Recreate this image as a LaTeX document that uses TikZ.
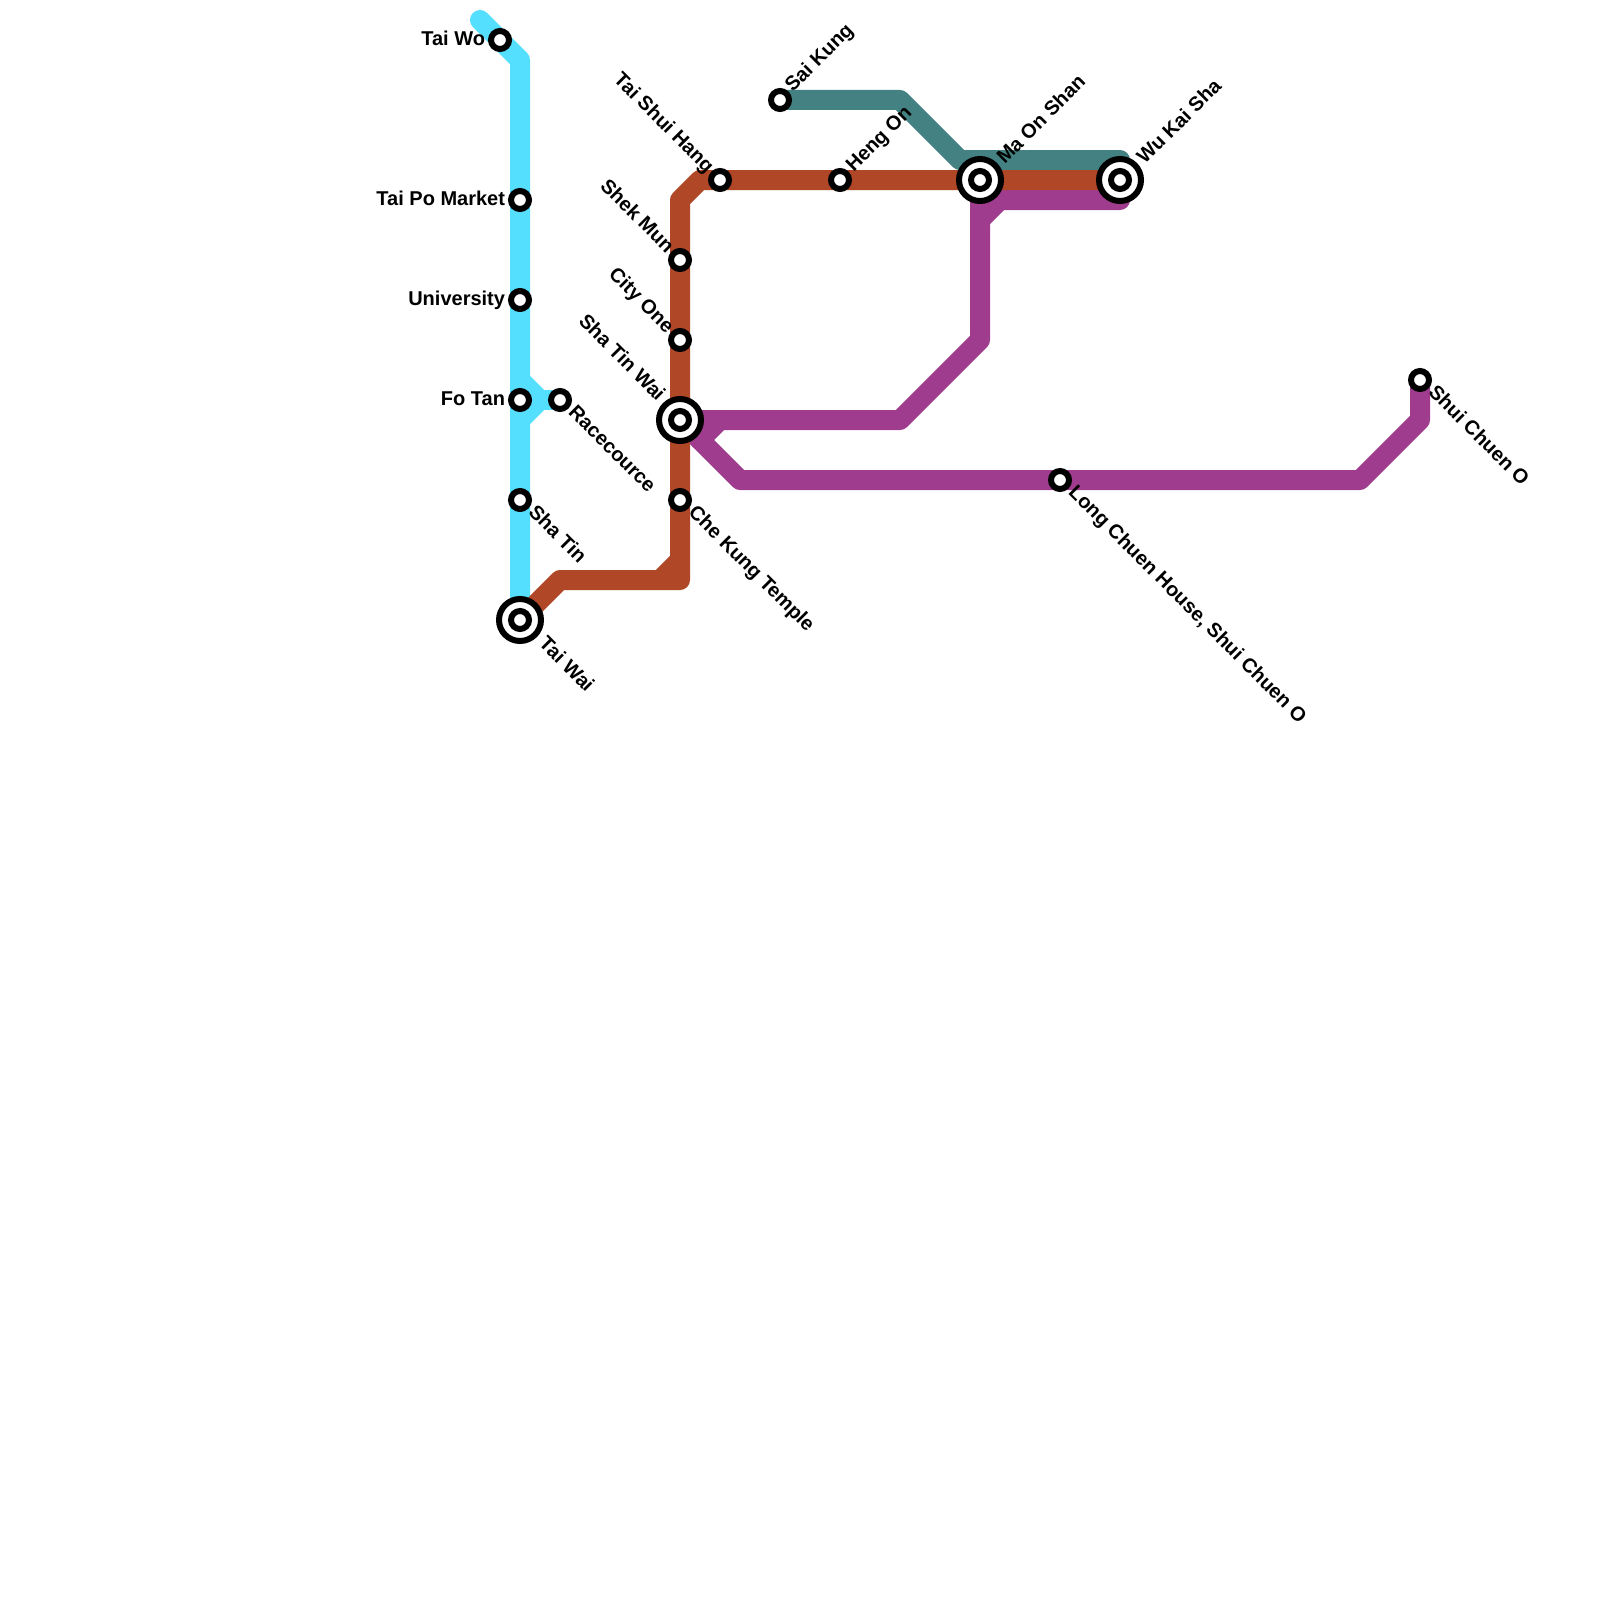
\documentclass[tikz,border=0pt]{standalone}
\usepackage{fontspec}
\setmainfont{Liberation Sans}
\definecolor{lblue}{HTML}{55DFFF}
\definecolor{lbrown}{HTML}{B04727}
\definecolor{lpurple}{HTML}{9F3C8E}
\definecolor{lteal}{HTML}{438182}
\tikzset{
  metro/.style={line width=20pt,line join=round,line cap=round},
  stn/.style={circle,draw=black,fill=white,line width=6pt,minimum size=18pt,inner sep=0pt,outer sep=0pt},
  hub/.style={circle,draw=black,fill=white,line width=6pt,minimum size=42pt,inner sep=0pt,outer sep=0pt},
  lab/.style={inner sep=0pt,outer sep=0pt,font=\fontsize{20}{24}\selectfont\bfseries,text=black,draw=none,text opacity=1,text height=15pt,text depth=4pt},
  labL/.style={lab,anchor=east},
  labUR/.style={lab,anchor=west,rotate=45},
  labDR/.style={lab,anchor=west,rotate=-45},
  labUL/.style={lab,anchor=east,rotate=-45},
}
\begin{document}
\begin{tikzpicture}[x=1pt,y=-1pt]
\useasboundingbox (0,0) rectangle (1600,1600);
% bends
\coordinate (b1) at (480,20);
\coordinate (b2) at (520,60);
\coordinate (b3) at (520,380);
\coordinate (b4) at (540,400);
\coordinate (b5) at (520,420);
\coordinate (r1) at (560,580);
\coordinate (r2) at (680,580);
\coordinate (r3) at (660,580);
\coordinate (r4) at (680,560);
\coordinate (r5) at (680,200);
\coordinate (r6) at (700,180);
\coordinate (p1) at (900,420);
\coordinate (p2) at (980,340);
\coordinate (p3) at (980,200);
\coordinate (p4) at (1120,200);
\coordinate (p5) at (980,220);
\coordinate (p6) at (1000,200);
\coordinate (p7) at (740,480);
\coordinate (p8) at (1360,480);
\coordinate (p9) at (1420,420);
\coordinate (p10) at (700,440);
\coordinate (p11) at (720,420);
\coordinate (t1) at (900,100);
\coordinate (t2) at (960,160);
\coordinate (t3) at (1120,160);
% station positions
\coordinate (cTaiWo) at (500,40);
\coordinate (cTaiPo) at (520,200);
\coordinate (cUni) at (520,300);
\coordinate (cFoTan) at (520,400);
\coordinate (cRace) at (560,400);
\coordinate (cShaTin) at (520,500);
\coordinate (cTaiWai) at (520,620);
\coordinate (cCheKung) at (680,500);
\coordinate (cShaTinWai) at (680,420);
\coordinate (cCityOne) at (680,340);
\coordinate (cShekMun) at (680,260);
\coordinate (cTaiShui) at (720,180);
\coordinate (cHengOn) at (840,180);
\coordinate (cMaOn) at (980,180);
\coordinate (cWuKai) at (1120,180);
\coordinate (cSaiKung) at (780,100);
\coordinate (cLong) at (1060,480);
\coordinate (cShui) at (1420,380);
% lines
\draw[metro,lblue] (b1) -- (b2) -- (cTaiWai);
\draw[metro,lblue] (b3) -- (b4) -- (b5);
\draw[metro,lblue] (b4) -- (cRace);
\draw[metro,lteal] (cSaiKung) -- (t1) -- (t2) -- (t3) -- (cWuKai);
\draw[metro,lpurple] (cShaTinWai) -- (p1) -- (p2) -- (p3) -- (p4) -- (cWuKai);
\draw[metro,lpurple] (p5) -- (p6);
\draw[metro,lpurple] (cShaTinWai) -- (p7) -- (p8) -- (p9) -- (cShui);
\draw[metro,lpurple] (p10) -- (p11);
\draw[metro,lbrown] (cTaiWai) -- (r1) -- (r2) -- (r5) -- (r6) -- (cWuKai);
\draw[metro,lbrown] (r3) -- (r4);
% stations
\node[stn] (TaiWo) at (cTaiWo) {};
\node[stn] (TaiPo) at (cTaiPo) {};
\node[stn] (Uni) at (cUni) {};
\node[stn] (FoTan) at (cFoTan) {};
\node[stn] (Race) at (cRace) {};
\node[stn] (ShaTin) at (cShaTin) {};
\node[hub] (TaiWaiO) at (cTaiWai) {};
\node[stn] (TaiWai) at (cTaiWai) {};
\node[stn] (CheKung) at (cCheKung) {};
\node[hub] (ShaTinWaiO) at (cShaTinWai) {};
\node[stn] (ShaTinWai) at (cShaTinWai) {};
\node[stn] (CityOne) at (cCityOne) {};
\node[stn] (ShekMun) at (cShekMun) {};
\node[stn] (TaiShui) at (cTaiShui) {};
\node[stn] (HengOn) at (cHengOn) {};
\node[hub] (MaOnO) at (cMaOn) {};
\node[stn] (MaOn) at (cMaOn) {};
\node[hub] (WuKaiO) at (cWuKai) {};
\node[stn] (WuKai) at (cWuKai) {};
\node[stn] (SaiKung) at (cSaiKung) {};
\node[stn] (Long) at (cLong) {};
\node[stn] (Shui) at (cShui) {};
% labels
\node[labL] (lTaiWo) at (485,40) {Tai Wo};
\node[labL] (lTaiPo) at (505,200) {Tai Po Market};
\node[labL] (lUni) at (505,300) {University};
\node[labL] (lFoTan) at (505,400) {Fo Tan};
\node[labDR] (lRace) at (571.5,409.5) {Racecource};
\node[labDR] (lShaTin) at (531.5,509.5) {Sha Tin};
\node[labDR] (lTaiWai) at (542,641) {Tai Wai};
\node[labDR] (lCheKung) at (691.5,509.5) {Che Kung Temple};
\node[labUL] (lShaTinWai) at (661,398) {Sha Tin Wai};
\node[labUL] (lCityOne) at (670,330) {City One};
\node[labUL] (lShekMun) at (670,250) {Shek Mun};
\node[labUL] (lTaiShui) at (710,170) {Tai Shui Hang};
\node[labUR] (lHengOn) at (850,169) {Heng On};
\node[labUR] (lMaOn) at (1001,161) {Ma On Shan};
\node[labUR] (lWuKai) at (1141,161) {Wu Kai Sha};
\node[labUR] (lSaiKung) at (789,89) {Sai Kung};
\node[labDR] (lLong) at (1071.5,489.5) {Long Chuen House, Shui Chuen O};
\node[labDR] (lShui) at (1431.5,389.5) {Shui Chuen O};
\end{tikzpicture}
\end{document}
